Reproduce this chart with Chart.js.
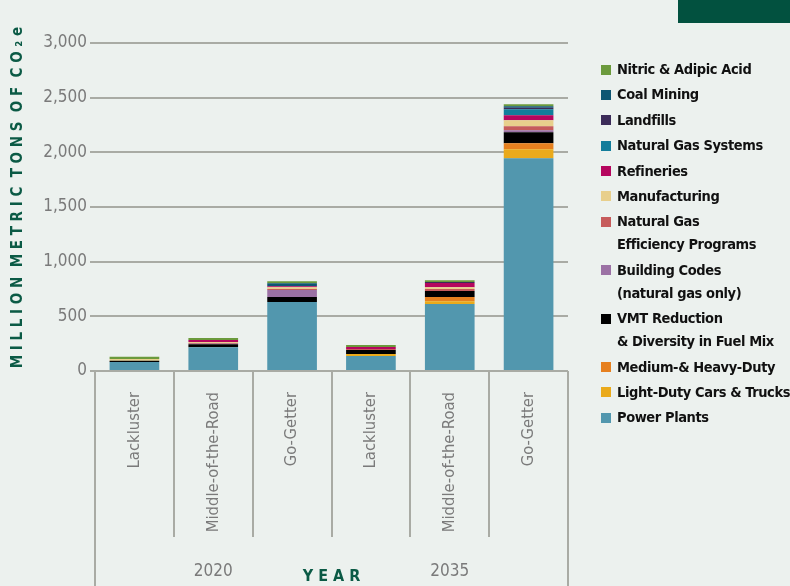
<!DOCTYPE html>
<html>
<head>
<meta charset="utf-8">
<script src="https://cdn.jsdelivr.net/npm/chart.js@4.4.1/dist/chart.umd.min.js"></script>
<style>
  html, body { margin: 0; padding: 0; background: #ecf1ee; }
  #wrap { position: relative; width: 790px; height: 586px; overflow: hidden; }
  #tab { position: absolute; left: 678px; top: 0; width: 112px; height: 23px; background: #02513f; }
  #legend { position: absolute; left: 601px; top: 58px; font: bold 14.5px "Liberation Sans Narrow", "DejaVu Sans Condensed", sans-serif; letter-spacing: -0.4px; color: #111; }
  .item { display: flex; align-items: flex-start; line-height: 23px; margin-bottom: 2.4px; white-space: pre; }
  .box { width: 10px; height: 10px; margin-top: 6.5px; margin-right: 6px; flex: none; }
</style>
</head>
<body>
<div id="wrap">
  <canvas id="myChart" width="790" height="586"></canvas>
  <div id="tab"></div>
  <div id="legend"></div>
</div>
<script>
let scenarios = ['Lackluster', 'Middle-of-the-Road', 'Go-Getter', 'Lackluster', 'Middle-of-the-Road', 'Go-Getter'];
let years = ['2020', '2035'];
let yTicks = [0, 500, 1000, 1500, 2000, 2500, 3000];

// million metric tons CO2e, bottom of the stack first
let powerPlants   = [82, 217, 630, 137, 612, 1947];
let lightDuty     = [0, 0, 0, 18, 27, 82];
let mediumHeavy   = [0, 0, 0, 0, 37, 55];
let vmt           = [12, 27, 46, 37, 55, 100];
let buildingCodes = [0, 6, 64, 0, 0, 18];
let ngEfficiency  = [0, 6, 9, 9, 18, 37];
let manufacturing = [15, 9, 18, 0, 18, 55];
let refineries    = [0, 18, 9, 18, 37, 46];
let ngSystems     = [0, 0, 0, 0, 0, 55];
let landfills     = [0, 0, 0, 0, 9, 12];
let coalMining    = [0, 0, 27, 0, 0, 15];
let nitric        = [21, 18, 18, 18, 18, 18];

let seriesNames = ['Power Plants', 'Light-Duty Cars & Trucks', 'Medium-& Heavy-Duty',
  'VMT Reduction\n& Diversity in Fuel Mix', 'Building Codes\n(natural gas only)',
  'Natural Gas\nEfficiency Programs', 'Manufacturing', 'Refineries', 'Natural Gas Systems',
  'Landfills', 'Coal Mining', 'Nitric & Adipic Acid'];
let seriesData = [powerPlants, lightDuty, mediumHeavy, vmt, buildingCodes, ngEfficiency,
  manufacturing, refineries, ngSystems, landfills, coalMining, nitric];
let colors = ['#5297ae', '#eaaa1b', '#e6801f', '#000000', '#9b71a4', '#c65b5b',
  '#e8cf8c', '#b5065e', '#137d9b', '#3b2b58', '#0e5673', '#6b9a3c'];

let gridColor = '#a9aba4';
let tickColor = '#7a7a7a';
let green = '#0b5a45';

Chart.defaults.font.family = '"Liberation Sans Narrow", "DejaVu Sans Condensed", sans-serif';

let datasets = seriesData.map((d, i) => ({
  label: seriesNames[i],
  data: d,
  backgroundColor: colors[i],
  borderWidth: 0,
  barPercentage: 0.63,
  categoryPercentage: 1
}));

let ctx = document.getElementById('myChart').getContext('2d');
let chart = new Chart(ctx, {
  type: 'bar',
  data: { labels: scenarios, datasets: datasets },
  options: {
    responsive: false,
    animation: false,
    layout: { padding: { top: 43, right: 222, left: 0, bottom: 0 } },
    plugins: { legend: { display: false }, tooltip: { enabled: false } },
    scales: {
      x: {
        stacked: true,
        grid: { offset: true, drawOnChartArea: false, tickLength: 166, color: gridColor, lineWidth: 2 },
        border: { display: false },
        ticks: { minRotation: 90, maxRotation: 90, autoSkip: false, padding: -145, color: tickColor, font: { size: 16.5 } },
        afterFit: s => { s.height = 166; }
      },
      x2: {
        type: 'category',
        labels: years,
        position: 'bottom',
        offset: true,
        grid: {
          offset: true, drawOnChartArea: false, tickLength: 49, lineWidth: 2,
          color: c => c.index === 1 ? 'rgba(0,0,0,0)' : gridColor
        },
        border: { display: false },
        ticks: { padding: -25, color: tickColor, font: { size: 17 } },
        title: { display: true, text: 'Y E A R', color: green, font: { size: 16, weight: 'bold' }, padding: 0 },
        afterFit: s => { s.height = 49; }
      },
      y: {
        stacked: true,
        min: yTicks[0],
        max: yTicks[yTicks.length - 1],
        afterBuildTicks: s => { s.ticks = yTicks.map(v => ({ value: v })); },
        ticks: { padding: 3, color: tickColor, font: { size: 17 }, callback: v => v.toLocaleString('en-US') },
        grid: { color: gridColor, lineWidth: 2, tickLength: 5 },
        border: { display: false },
        title: {
          display: true,
          text: '    M I L L I O N  M E T R I C  T O N S  O F  C O \u2082 e',
          color: green,
          font: { size: 15, weight: 'bold' },
          padding: { top: 9, bottom: 0 }
        },
        afterFit: s => { s.width = 95; }
      }
    }
  }
});

// legend, top entry = top of the stack
let legend = document.getElementById('legend');
for (let i = seriesNames.length - 1; i >= 0; i--) {
  let item = document.createElement('div');
  item.className = 'item';
  let box = document.createElement('span');
  box.className = 'box';
  box.style.background = colors[i];
  let txt = document.createElement('span');
  txt.textContent = seriesNames[i];
  item.appendChild(box);
  item.appendChild(txt);
  legend.appendChild(item);
}
</script>
</body>
</html>
